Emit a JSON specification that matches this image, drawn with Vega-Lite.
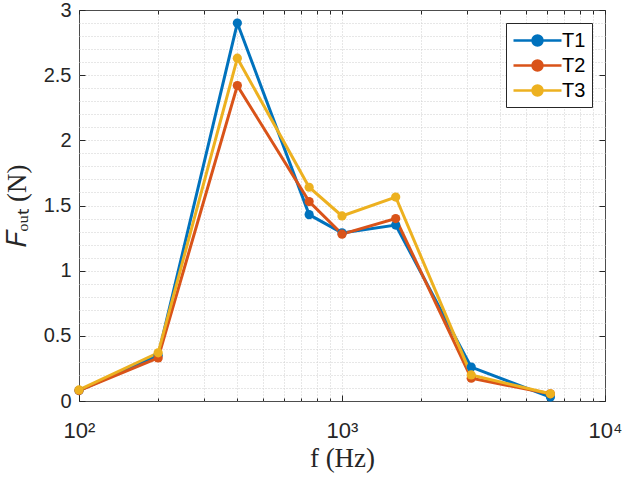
{
  "$schema": "https://vega.github.io/schema/vega-lite/v6.json",
  "description": "Output force against frequency for three trials, log frequency axis.",
  "autosize": "none",
  "padding": {"left": 79, "top": 10, "right": 19, "bottom": 79},
  "width": 526,
  "height": 391,
  "background": "white",
  "data": {
    "values": [
      {"f": 100, "series": "T1", "F": 0.08},
      {"f": 200, "series": "T1", "F": 0.35},
      {"f": 400, "series": "T1", "F": 2.9},
      {"f": 750, "series": "T1", "F": 1.43},
      {"f": 1000, "series": "T1", "F": 1.29},
      {"f": 1600, "series": "T1", "F": 1.35},
      {"f": 3100, "series": "T1", "F": 0.26},
      {"f": 6200, "series": "T1", "F": 0.03},
      {"f": 100, "series": "T2", "F": 0.08},
      {"f": 200, "series": "T2", "F": 0.33},
      {"f": 400, "series": "T2", "F": 2.42},
      {"f": 750, "series": "T2", "F": 1.53},
      {"f": 1000, "series": "T2", "F": 1.28},
      {"f": 1600, "series": "T2", "F": 1.4},
      {"f": 3100, "series": "T2", "F": 0.175},
      {"f": 6200, "series": "T2", "F": 0.055},
      {"f": 100, "series": "T3", "F": 0.085},
      {"f": 200, "series": "T3", "F": 0.37},
      {"f": 400, "series": "T3", "F": 2.63},
      {"f": 750, "series": "T3", "F": 1.64},
      {"f": 1000, "series": "T3", "F": 1.42},
      {"f": 1600, "series": "T3", "F": 1.565},
      {"f": 3100, "series": "T3", "F": 0.2},
      {"f": 6200, "series": "T3", "F": 0.055}
    ]
  },
  "encoding": {
    "color": {
      "field": "series",
      "type": "nominal",
      "scale": {"domain": ["T1", "T2", "T3"], "range": ["#0072BD", "#D95319", "#EDB120"]},
      "legend": {
        "title": null,
        "orient": "none",
        "legendX": 427,
        "legendY": 13,
        "symbolType": "M-1,0H3.8M1.9,0A0.5,0.5,0,1,1,0.9,0A0.5,0.5,0,1,1,1.9,0",
        "symbolSize": 400,
        "symbolStrokeWidth": 2.5,
        "labelOffset": 27,
        "labelFont": "Liberation Sans",
        "labelFontSize": 20,
        "labelColor": "#000000",
        "rowPadding": 3,
        "padding": 6,
        "strokeColor": "#262626",
        "fillColor": "white",
        "encode": {
          "symbols": {
            "update": {
              "fill": {"scale": "color", "field": "value"},
              "stroke": {"scale": "color", "field": "value"}
            }
          }
        }
      }
    }
  },
  "layer": [
    {
      "mark": {"type": "line", "strokeWidth": 3},
      "encoding": {
        "x": {
          "field": "f",
          "type": "quantitative",
          "scale": {"type": "log", "domain": [100, 10000]},
          "axis": {
            "orient": "bottom",
            "values": [200, 300, 400, 500, 600, 700, 800, 900, 1000, 2000, 3000, 4000, 5000, 6000, 7000, 8000, 9000],
            "labels": false,
            "tickSize": -3,
            "grid": true,
            "gridDash": [1, 2],
            "gridColor": "#cfcfcf",
            "title": null,
            "zindex": 0
          }
        },
        "y": {
          "field": "F",
          "type": "quantitative",
          "scale": {"domain": [0, 3]},
          "axis": {
            "orient": "left",
            "values": [0.1, 0.2, 0.3, 0.4, 0.5, 0.6, 0.7, 0.8, 0.9, 1, 1.1, 1.2, 1.3, 1.4, 1.5, 1.6, 1.7, 1.8, 1.9, 2, 2.1, 2.2, 2.3, 2.4, 2.5, 2.6, 2.7, 2.8, 2.9],
            "labels": false,
            "ticks": false,
            "grid": true,
            "gridDash": [1, 2],
            "gridColor": "#cfcfcf",
            "title": null,
            "zindex": 0
          }
        }
      }
    },
    {
      "mark": {"type": "point", "filled": true, "size": 85, "opacity": 1},
      "encoding": {
        "x": {
          "field": "f",
          "type": "quantitative",
          "axis": {
            "orient": "bottom",
            "values": [100, 1000, 10000],
            "labelExpr": "datum.value == 100 ? '10²' : datum.value == 1000 ? '10³' : '10⁴'",
            "labelFlush": false,
            "labelFontSize": 22,
            "tickSize": -6,
            "labelPadding": 25,
            "grid": false,
            "title": "f (Hz)",
            "titleFont": "Liberation Serif",
            "titleFontSize": 27,
            "titleFontWeight": "normal",
            "titleColor": "#262626",
            "titlePadding": 4,
            "zindex": 1
          }
        },
        "y": {
          "field": "F",
          "type": "quantitative",
          "axis": {
            "orient": "left",
            "values": [0, 0.5, 1, 1.5, 2, 2.5, 3],
            "format": "~g",
            "labelFlush": false,
            "tickSize": -6,
            "labelPadding": 14,
            "grid": false,
            "title": "𝐹ₒᵤₜ (N)",
            "titleFont": "Liberation Serif",
            "titleFontSize": 27,
            "titleFontWeight": "normal",
            "titleColor": "#262626",
            "titlePadding": 12,
            "zindex": 1
          }
        }
      }
    },
    {
      "mark": {"type": "point", "opacity": 0},
      "encoding": {
        "x": {
          "field": "f",
          "type": "quantitative",
          "axis": {
            "orient": "top",
            "values": [100, 200, 300, 400, 500, 600, 700, 800, 900, 1000, 2000, 3000, 4000, 5000, 6000, 7000, 8000, 9000, 10000],
            "labels": false,
            "tickSize": -4,
            "grid": false,
            "title": null,
            "zindex": 1
          }
        },
        "y": {
          "field": "F",
          "type": "quantitative",
          "axis": {
            "orient": "right",
            "values": [0, 0.5, 1, 1.5, 2, 2.5, 3],
            "labels": false,
            "tickSize": -6,
            "grid": false,
            "title": null,
            "zindex": 1
          }
        }
      }
    }
  ],
  "resolve": {"axis": {"x": "independent", "y": "independent"}},
  "config": {
    "view": {"stroke": "#4d4d4d", "strokeWidth": 1},
    "axis": {
      "domain": false,
      "tickColor": "#262626",
      "tickWidth": 1,
      "labelFont": "Liberation Sans",
      "labelFontSize": 20,
      "labelColor": "#262626"
    }
  }
}
